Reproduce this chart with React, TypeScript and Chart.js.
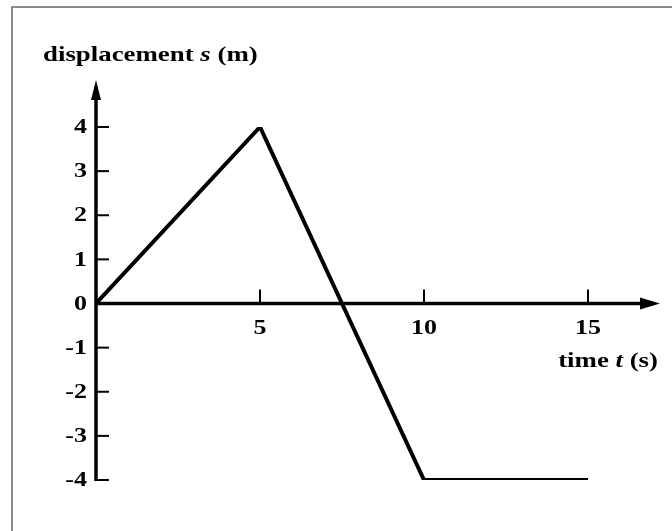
import React, { useEffect, useRef } from "react";
import { Chart, registerables } from "chart.js";

Chart.register(...registerables);

// ---- data ----
const times = [0, 5, 10, 15];
const displacement = [0, 4, -4, -4];
const xTickValues = [5, 10, 15];
const xTickLabels = ["5", "10", "15"];
const yTickValues = [4, 3, 2, 1, 0, -1, -2, -3, -4];
const yTickLabels = ["4", "3", "2", "1", "0", "-1", "-2", "-3", "-4"];
const yTitleParts = [
  { text: "displacement ", italic: false },
  { text: "s", italic: true },
  { text: " (m)", italic: false },
];
const xTitleParts = [
  { text: "time ", italic: false },
  { text: "t", italic: true },
  { text: " (s)", italic: false },
];

const SERIF = '"Liberation Serif", "Times New Roman", serif';

function drawParts(
  ctx: CanvasRenderingContext2D,
  parts: { text: string; italic: boolean }[],
  x: number,
  y: number,
  size: number,
  scaleX: number,
  align: "left" | "right" | "center",
  baseline: CanvasTextBaseline
) {
  ctx.save();
  ctx.textBaseline = baseline;
  ctx.textAlign = "left";
  let total = 0;
  const widths = parts.map((p) => {
    ctx.font = `${p.italic ? "italic " : ""}bold ${size}px ${SERIF}`;
    const w = ctx.measureText(p.text).width;
    total += w;
    return w;
  });
  let start = x;
  if (align === "right") start = x - total * scaleX;
  else if (align === "center") start = x - (total * scaleX) / 2;
  ctx.translate(start, y);
  ctx.scale(scaleX, 1);
  let cx = 0;
  parts.forEach((p, i) => {
    ctx.font = `${p.italic ? "italic " : ""}bold ${size}px ${SERIF}`;
    ctx.fillText(p.text, cx, 0);
    cx += widths[i];
  });
  ctx.restore();
}

const axesPlugin = {
  id: "customAxes",
  beforeDraw(chart: any) {
    const ctx: CanvasRenderingContext2D = chart.ctx;
    ctx.save();
    ctx.fillStyle = "#ffffff";
    ctx.fillRect(0, 0, chart.width, chart.height);
    // frame
    ctx.strokeStyle = "#8c8c8c";
    ctx.lineWidth = 2;
    ctx.beginPath();
    ctx.moveTo(12, chart.height + 2);
    ctx.lineTo(12, 7);
    ctx.lineTo(chart.width + 2, 7);
    ctx.stroke();
    ctx.restore();
  },
  beforeDatasetsDraw(chart: any) {
    const ctx: CanvasRenderingContext2D = chart.ctx;
    const xs = chart.scales.x;
    const ys = chart.scales.y;
    const ox = xs.getPixelForValue(0);
    const oy = ys.getPixelForValue(0);
    const yBottom = ys.getPixelForValue(-4);
    const yTip = chart.chartArea.top - 47;
    const xTip = chart.width - 12;
    ctx.save();
    ctx.strokeStyle = "#000";
    ctx.fillStyle = "#000";
    ctx.lineCap = "butt";
    // y axis
    ctx.lineWidth = 3.5;
    ctx.beginPath();
    ctx.moveTo(ox, yBottom + 1);
    ctx.lineTo(ox, yTip + 10);
    ctx.stroke();
    ctx.beginPath();
    ctx.moveTo(ox, yTip);
    ctx.lineTo(ox - 5, yTip + 20);
    ctx.lineTo(ox + 5, yTip + 20);
    ctx.closePath();
    ctx.fill();
    // x axis
    ctx.beginPath();
    ctx.moveTo(ox - 1, oy);
    ctx.lineTo(xTip - 10, oy);
    ctx.stroke();
    ctx.beginPath();
    ctx.moveTo(xTip, oy);
    ctx.lineTo(xTip - 20, oy - 6);
    ctx.lineTo(xTip - 20, oy + 6);
    ctx.closePath();
    ctx.fill();
    // ticks
    ctx.lineWidth = 2;
    yTickValues.forEach((v) => {
      if (v === 0) return;
      const py = ys.getPixelForValue(v);
      ctx.beginPath();
      ctx.moveTo(ox, py);
      ctx.lineTo(ox + 13, py);
      ctx.stroke();
    });
    xTickValues.forEach((v) => {
      const px = xs.getPixelForValue(v);
      ctx.beginPath();
      ctx.moveTo(px, oy);
      ctx.lineTo(px, oy - 14);
      ctx.stroke();
    });
    // tick labels
    yTickValues.forEach((v, i) => {
      const py = ys.getPixelForValue(v);
      drawParts(ctx, [{ text: yTickLabels[i], italic: false }], ox - 9, py + 1, 20, 1.3, "right", "middle");
    });
    xTickValues.forEach((v, i) => {
      const px = xs.getPixelForValue(v);
      drawParts(ctx, [{ text: xTickLabels[i], italic: false }], px, oy + 30, 20, 1.3, "center", "alphabetic");
    });
    // titles
    drawParts(ctx, yTitleParts, 43, 61, 22, 1.22, "left", "alphabetic");
    drawParts(ctx, xTitleParts, 658, oy + 63, 22, 1.22, "right", "alphabetic");
    ctx.restore();
  },
};

export default function App() {
  const ref = useRef<HTMLCanvasElement | null>(null);
  useEffect(() => {
    if (!ref.current) return;
    const chart = new Chart(ref.current, {
      type: "scatter",
      data: {
        datasets: [
          {
            data: times.map((t, i) => ({ x: t, y: displacement[i] })),
            showLine: true,
            borderColor: "#000",
            borderWidth: 4,
            pointRadius: 0,
            tension: 0,
            borderJoinStyle: "miter",
            borderCapStyle: "butt",
          } as any,
        ],
      },
      options: {
        animation: false,
        responsive: false,
        devicePixelRatio: 1,
        layout: { padding: { left: 96, right: 84, top: 127, bottom: 51 } },
        plugins: { legend: { display: false }, tooltip: { enabled: false }, title: { display: false } },
        scales: {
          x: { type: "linear", min: 0, max: 15, display: false },
          y: { type: "linear", min: -4, max: 4, display: false },
        },
      },
      plugins: [axesPlugin],
    });
    return () => chart.destroy();
  }, []);
  return (
    <div style={{ position: "fixed", left: 0, top: 0, width: 672, height: 531, background: "#fff" }}>
      <canvas ref={ref} width={672} height={531} style={{ display: "block" }} />
    </div>
  );
}
